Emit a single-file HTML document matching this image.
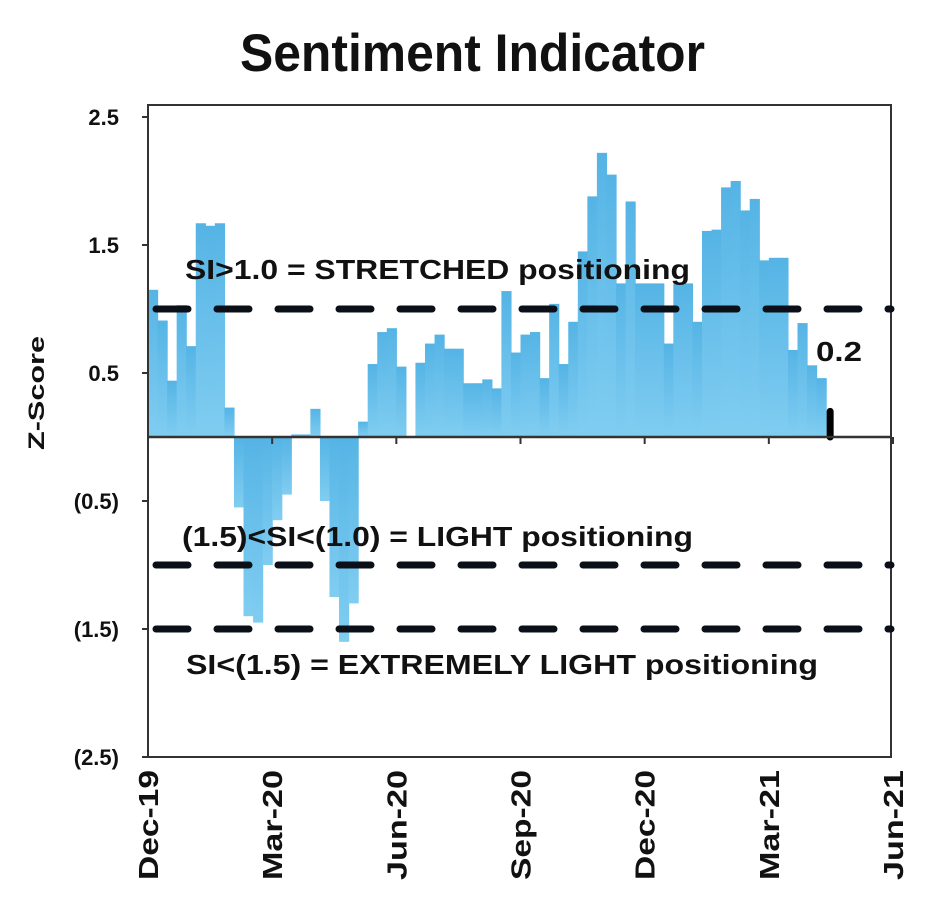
<!DOCTYPE html>
<html><head><meta charset="utf-8"><style>
body{margin:0;background:#fff;}
svg text{font-family:"Liberation Sans",Arial,sans-serif;font-weight:bold;fill:#111;}
</style></head><body>
<svg id="chart" width="945" height="908" viewBox="0 0 945 908" xmlns="http://www.w3.org/2000/svg">
<text x="240" y="71" font-size="53" textLength="465" lengthAdjust="spacingAndGlyphs">Sentiment Indicator</text>
<g id="bars"></g>
<g id="axes"></g>
<text transform="translate(44,450) rotate(-90)" font-size="22" textLength="114" lengthAdjust="spacingAndGlyphs">Z-Score</text>
<text x="185" y="279" font-size="28" textLength="505" lengthAdjust="spacingAndGlyphs">SI&gt;1.0 = STRETCHED positioning</text>
<text x="182" y="546" font-size="28" textLength="511" lengthAdjust="spacingAndGlyphs">(1.5)&lt;SI&lt;(1.0) = LIGHT positioning</text>
<text x="186" y="674" font-size="28" textLength="632" lengthAdjust="spacingAndGlyphs">SI&lt;(1.5) = EXTREMELY LIGHT positioning</text>
<text x="816" y="361" font-size="28" textLength="46" lengthAdjust="spacingAndGlyphs">0.2</text>
</svg>
<script>
const values = [1.15,0.91,0.44,1.03,0.71,1.67,1.65,1.67,0.23,-0.55,-1.40,-1.45,-1.0,-0.65,-0.45,0.02,0.02,0.22,-0.5,-1.25,-1.6,-1.3,0.12,0.57,0.82,0.85,0.55,0.0,0.58,0.73,0.8,0.69,0.69,0.42,0.42,0.45,0.38,1.14,0.66,0.8,0.82,0.46,1.04,0.57,0.9,1.45,1.88,2.22,2.05,1.2,1.84,1.2,1.2,1.2,0.73,1.2,1.2,0.9,1.61,1.62,1.95,2.0,1.77,1.86,1.38,1.4,1.4,0.68,0.89,0.56,0.46];
const latestValue = 0.2;
const yTicks = [2.5,1.5,0.5,-0.5,-1.5,-2.5];
const yTickLabels = ["2.5","1.5","0.5","(0.5)","(1.5)","(2.5)"];
const xTickLabels = ["Dec-19","Mar-20","Jun-20","Sep-20","Dec-20","Mar-21","Jun-21"];
const thresholds = [1.0,-1.0,-1.5];

const NS="http://www.w3.org/2000/svg";
const L=148,R=891,T=105,B=757;
const yMin=-2.5,yMax=2.5, yTop=117;
function y(v){return yTop+(yMax-v)/(yMax-yMin)*(B-yTop);}
const weeksTotal=78;
function x(w){return L+w*(893-L)/weeksTotal;}
function mk(tag,attrs,parent){const e=document.createElementNS(NS,tag);for(const k in attrs)e.setAttribute(k,attrs[k]);parent.appendChild(e);return e;}
const svg=document.getElementById('chart');
const bars=document.getElementById('bars');
const axes=document.getElementById('axes');
const defs=mk('defs',{},svg);
const lg=mk('linearGradient',{id:'bg',x1:0,y1:0,x2:0,y2:1},defs);
mk('stop',{offset:'0','stop-color':'#55b4e5'},lg);
mk('stop',{offset:'1','stop-color':'#80cdf1'},lg);
values.forEach((v,i)=>{
  const y0=y(0),y1=y(v);
  const r=mk('rect',{x:x(i),y:Math.min(y0,y1),width:x(i+1)-x(i)+0.6,height:Math.abs(y1-y0),fill:'url(#bg)'},bars);
  
  
});
const lb=mk('line',{x1:x(values.length)+4,x2:x(values.length)+4,y1:y(0),y2:y(latestValue),stroke:'#000','stroke-width':7,'stroke-linecap':'round'},bars);


const fr=mk('rect',{x:L,y:T,width:R-L,height:B-T,fill:'none',stroke:'#333','stroke-width':2},axes);


const zl=mk('line',{x1:L,x2:R,y1:y(0),y2:y(0),stroke:'#333','stroke-width':2.5},axes);


thresholds.forEach(t=>{
  const d=mk('line',{x1:L,x2:R,y1:y(t),y2:y(t),stroke:'#0a0f18','stroke-width':7,'stroke-dasharray':'32 29','stroke-dashoffset':'-8','stroke-linecap':'round'},axes);
  
  
});
yTicks.forEach((t,i)=>{
  const tk=mk('line',{x1:L-6,x2:L,y1:y(t),y2:y(t),stroke:'#333','stroke-width':2},axes);
  
  
  const tx=mk('text',{x:119,y:y(t)+8,'font-size':22,'text-anchor':'end'},axes);
  tx.textContent=yTickLabels[i];
  
  
});
xTickLabels.forEach((lab,i)=>{
  const xx=x(i*13);
  const tk=mk('line',{x1:xx,x2:xx,y1:y(0),y2:y(0)+7,stroke:'#333','stroke-width':2},axes);
  
  
  const tx=mk('text',{transform:`translate(${xx+10},880) rotate(-90)`,'font-size':28,textLength:110,lengthAdjust:'spacingAndGlyphs'},axes);
  tx.textContent=lab;
  
  
});
</script>
</body></html>
